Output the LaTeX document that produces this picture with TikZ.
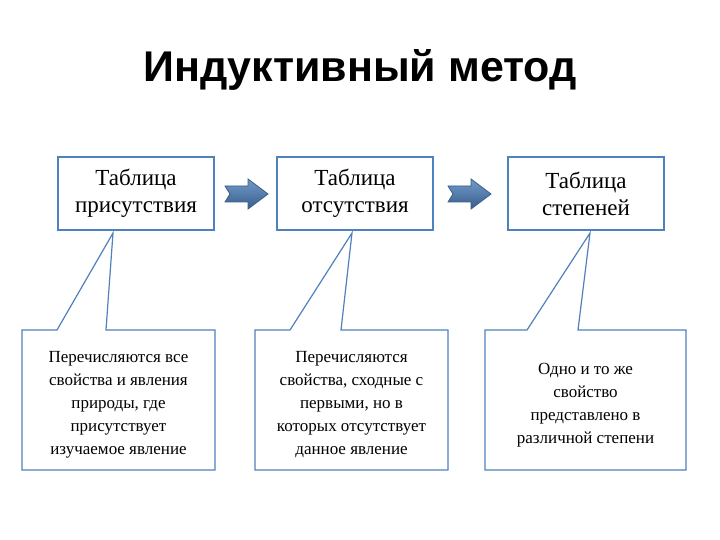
\documentclass[tikz,border=0pt]{standalone}
\usepackage{fontspec}
\setmainfont{Liberation Serif}
\newfontfamily\titlefont{Liberation Sans}
\definecolor{bl}{RGB}{79,129,189}
\definecolor{bld}{RGB}{56,93,138}
\tikzset{
 topbox/.style={draw=bl,line width=1.2pt,minimum width=156pt,minimum height=73pt,align=center,font=\fontsize{23}{27}\selectfont},
 calltext/.style={align=center,font=\fontsize{17}{23}\selectfont},
 calloutline/.style={draw=bl,line width=1.2pt,fill=white},
 barrow/.style={draw=bld,line width=0.8pt,top color=bl!80!white,bottom color=bld}
}
\begin{document}
\begin{tikzpicture}[x=1pt,y=-1pt]
\useasboundingbox (0,0) rectangle (720,540);
\node[font=\titlefont\bfseries\fontsize{43}{48}\selectfont] (title) at (360,70) {Индуктивный метод};
\node[topbox] (t1) at (136,193.5) {Таблица\\присутствия};
\node[topbox] (t2) at (355,193.5) {Таблица\\отсутствия};
\node[topbox] (t3) at (586,193.5) {Таблица\\степеней};
\foreach \x in {225,448}{
 \draw[barrow] (\x,186) -- (\x+23,186) -- (\x+23,179) -- (\x+43,194) -- (\x+23,209) -- (\x+23,202) -- (\x,202) -- (\x+5,194) -- cycle;
}
\coordinate (p1) at (113,233);
\coordinate (p2) at (352,233);
\coordinate (p3) at (590,233);
\draw[calloutline] (22,330) -- (57,330) -- (p1) -- (106,330) -- (215,330) -- (215,470) -- (22,470) -- cycle;
\draw[calloutline] (255,330) -- (290,330) -- (p2) -- (341,330) -- (448,330) -- (448,470) -- (255,470) -- cycle;
\draw[calloutline] (485,330) -- (527,330) -- (p3) -- (578,330) -- (686,330) -- (686,470) -- (485,470) -- cycle;
\node[calltext] (c1) at (118.5,405) {Перечисляются все\\свойства и явления\\природы, где\\присутствует\\изучаемое явление};
\node[calltext] (c2) at (351.5,405) {Перечисляются\\свойства, сходные с\\первыми, но в\\которых отсутствует\\данное явление};
\node[calltext] (c3) at (585.5,405) {Одно и то же\\свойство\\представлено в\\различной степени};
\end{tikzpicture}
\end{document}
